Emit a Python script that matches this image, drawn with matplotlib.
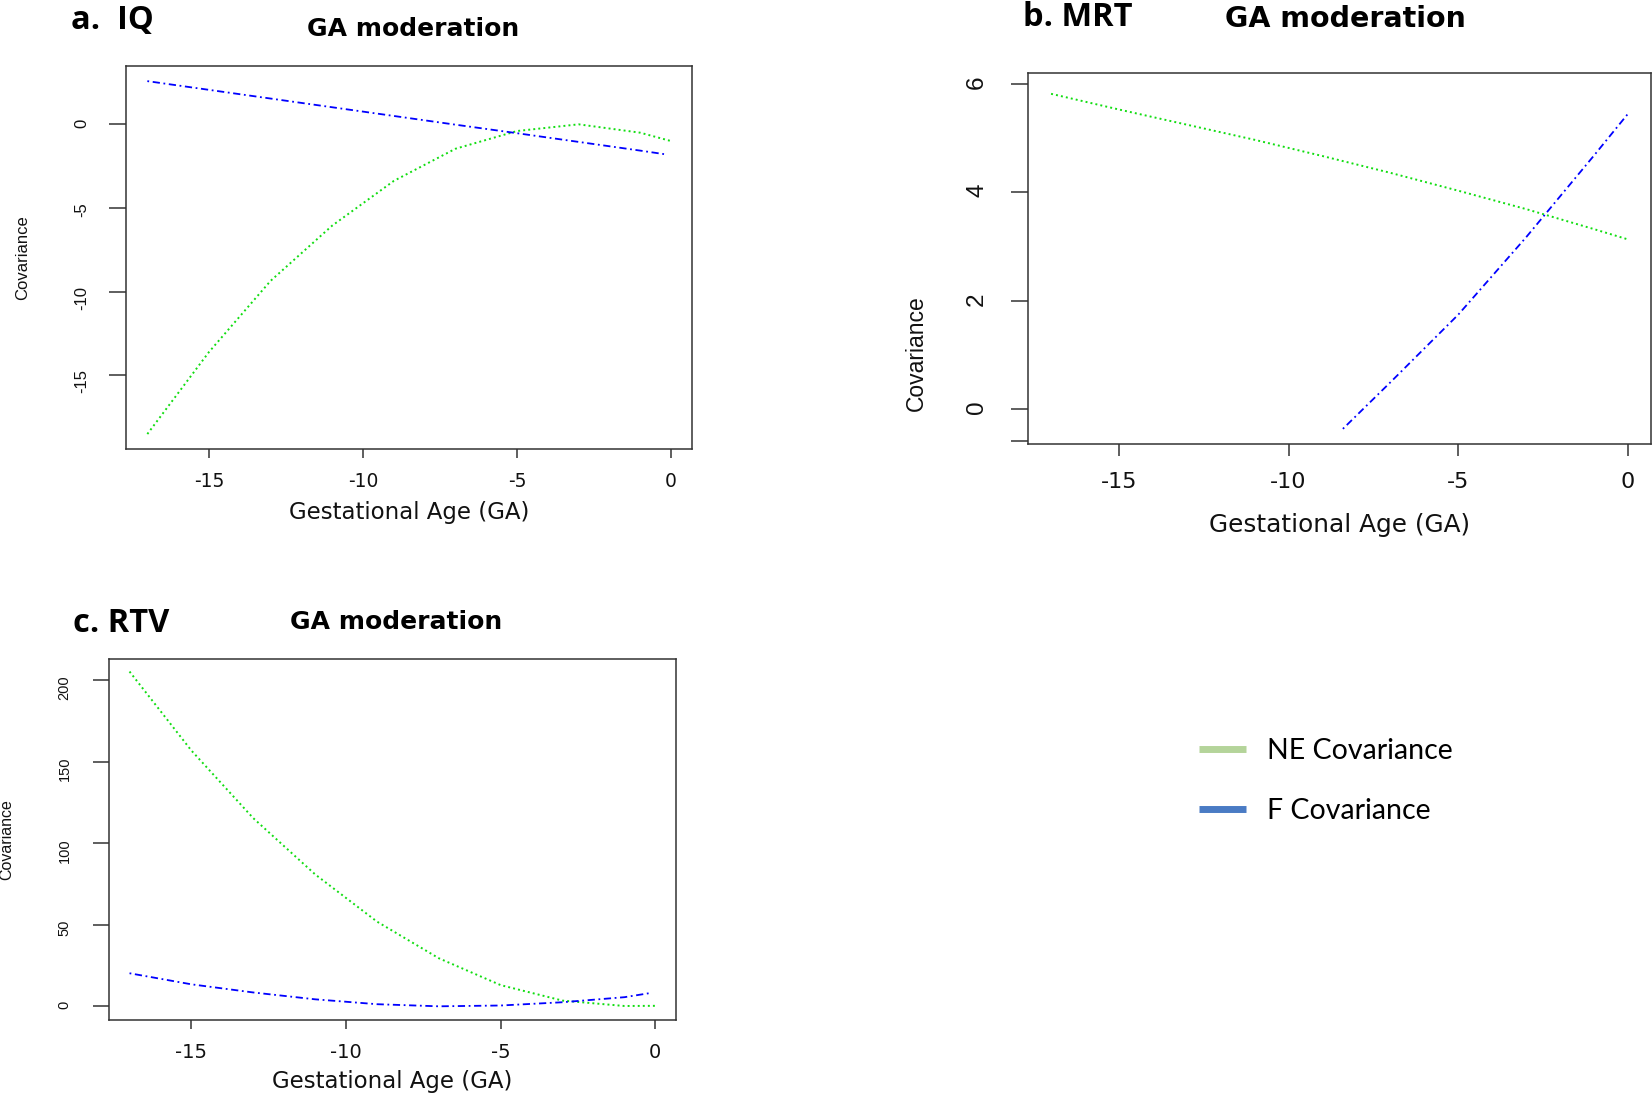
import matplotlib
matplotlib.use("Agg")
import matplotlib.pyplot as plt
from matplotlib.lines import Line2D

plt.rcParams['axes.unicode_minus'] = False

# gestational age grid and covariance curves for the three outcomes
ga = [-17, -15, -13, -11, -9, -7, -5, -3, -1, 0]
ga_f = [-17, -15, -13, -11, -9, -7, -5, -3, -1, -0.15]

iq_ne = [-18.5, -13.6, -9.35, -6.05, -3.38, -1.46, -0.4, 0.0, -0.5, -1.0]
iq_f = [2.58, 2.06, 1.54, 1.02, 0.5, -0.02, -0.53, -1.05, -1.57, -1.8]

mrt_ne = [5.82, 5.53, 5.25, 4.97, 4.67, 4.36, 4.03, 3.69, 3.32, 3.13]
mrt_f_ga = [-8.4, -7, -5, -3, -1, 0]
mrt_f = [-0.37, 0.49, 1.74, 3.17, 4.68, 5.45]

rtv_ne = [205.5, 157, 115.5, 81, 52, 29.5, 13, 3.5, 0.2, 0.3]
rtv_f = [20.3, 13.5, 8.5, 4.3, 1.3, 0.0, 0.5, 2.5, 5.6, 8.2]

x_ticks = [-15, -10, -5, 0]
iq_yticks = [0, -5, -10, -15]
mrt_yticks = [0, 2, 4, 6]
rtv_yticks = [0, 50, 100, 150, 200]

W, H = 1652, 1097
fig = plt.figure(figsize=(W / 100, H / 100), dpi=100)


def px_axes(left, top, right, bottom):
    return fig.add_axes([left / W, 1 - bottom / H, (right - left) / W, (bottom - top) / H])


NE_STYLE = dict(color='#11dd11', lw=1.4, linestyle=(0, (1, 1.6)))
F_STYLE = dict(color='#0000ff', lw=1.3, linestyle=(0, (1, 2, 4, 2)))


def style_axes(ax, xlim, ylim, yticks, s):
    ax.set_xlim(*xlim)
    ax.set_ylim(*ylim)
    ax.set_xticks(x_ticks)
    ax.set_yticks(yticks)
    for sp in ax.spines.values():
        sp.set_color('#333333')
        sp.set_linewidth(1.1)
    ax.tick_params(axis='x', length=s['xlen'], width=1.1, color='#333333',
                   pad=s['xpad'], labelsize=s['xfs'], labelcolor='#111111')
    ax.tick_params(axis='y', length=s['ylen'], width=1.1, color='#333333',
                   pad=s['ypad'], labelsize=s['yfs'], labelcolor='#111111',
                   labelrotation=90)
    for t in ax.get_yticklabels():
        t.set_family('Liberation Sans')
    for t in ax.get_xticklabels():
        t.set_family('DejaVu Sans')
    ax.set_xlabel('Gestational Age (GA)', fontsize=s['xlfs'], family='DejaVu Sans',
                  color='#111111', va='baseline')
    ax.xaxis.set_label_coords(0.5, s['xly'])
    ax.set_ylabel('Covariance', fontsize=s['ylfs'], family='Liberation Sans',
                  color='#111111', va='baseline')
    ax.yaxis.set_label_coords(s['ylx'], s['yly'])
    ax.set_title('GA moderation', fontsize=s['tfs'], family='DejaVu Sans',
                 fontweight='bold', x=s['tx'], y=s['ty'], va='baseline', pad=0)


# a. IQ
ax_a = px_axes(126.4, 66.4, 692, 448.8)
ax_a.plot(ga, iq_ne, **NE_STYLE)
ax_a.plot(ga_f, iq_f, **F_STYLE)
style_axes(ax_a, (-17.68, 0.68), (-19.38, 3.46), iq_yticks,
           dict(xlen=6.5, xpad=10, xfs=13.5, ylen=12.2, ypad=14.4, yfs=12,
                xlfs=16.5, xly=-0.1836, ylfs=12, ylx=-0.176, yly=0.5,
                tfs=18, tx=0.5076, ty=1.0795))

# b. MRT
ax_b = px_axes(1028, 72.7, 1651, 444)
ax_b.plot(ga, mrt_ne, **NE_STYLE)
ax_b.plot(mrt_f_ga, mrt_f, **F_STYLE)
style_axes(ax_b, (-17.68, 0.68), (-0.65, 6.21), mrt_yticks,
           dict(xlen=8.6, xpad=11.5, xfs=16, ylen=12.2, ypad=16.5, yfs=17.5,
                xlfs=17.8, xly=-0.236, ylfs=16.5, ylx=-0.1685, yly=0.245,
                tfs=20.5, tx=0.509, ty=1.122))
ax_b.set_yticks([-0.59], minor=True)
ax_b.tick_params(axis='y', which='minor', length=12.2, width=1.1, color='#333333')

# c. RTV
ax_c = px_axes(108.5, 658.5, 676.4, 1020)
ax_c.plot(ga, rtv_ne, **NE_STYLE)
ax_c.plot(ga_f, rtv_f, **F_STYLE)
style_axes(ax_c, (-17.68, 0.68), (-8.4, 213.5), rtv_yticks,
           dict(xlen=6.8, xpad=9.4, xfs=14, ylen=11.5, ypad=15, yfs=10.5,
                xlfs=16.5, xly=-0.188, ylfs=11.5, ylx=-0.172, yly=0.498,
                tfs=18, tx=0.506, ty=1.0816))

# panel letters
for label, (px, py) in [('a.  IQ', (70.6, 29.2)), ('b. MRT', (1022.8, 26.3)),
                        ('c. RTV', (72.8, 631.7))]:
    fig.text(px / W, 1 - py / H, label, fontsize=23.5, family='Open Sans',
             fontweight='bold', ha='left', va='baseline')

handles = [Line2D([], [], color='#b4d49a', lw=5, solid_capstyle='butt'),
           Line2D([], [], color='#4a7bc4', lw=5, solid_capstyle='butt')]
fig.legend(handles, ['NE Covariance', 'F Covariance'], loc='center left',
           bbox_to_anchor=(1199 / W, 1 - 781 / H), frameon=False,
           prop={'family': 'Lato', 'size': 20.5}, handlelength=1.65,
           handletextpad=0.75, labelspacing=1.2, borderpad=0, borderaxespad=0)

fig.savefig('out.png', dpi=100)
